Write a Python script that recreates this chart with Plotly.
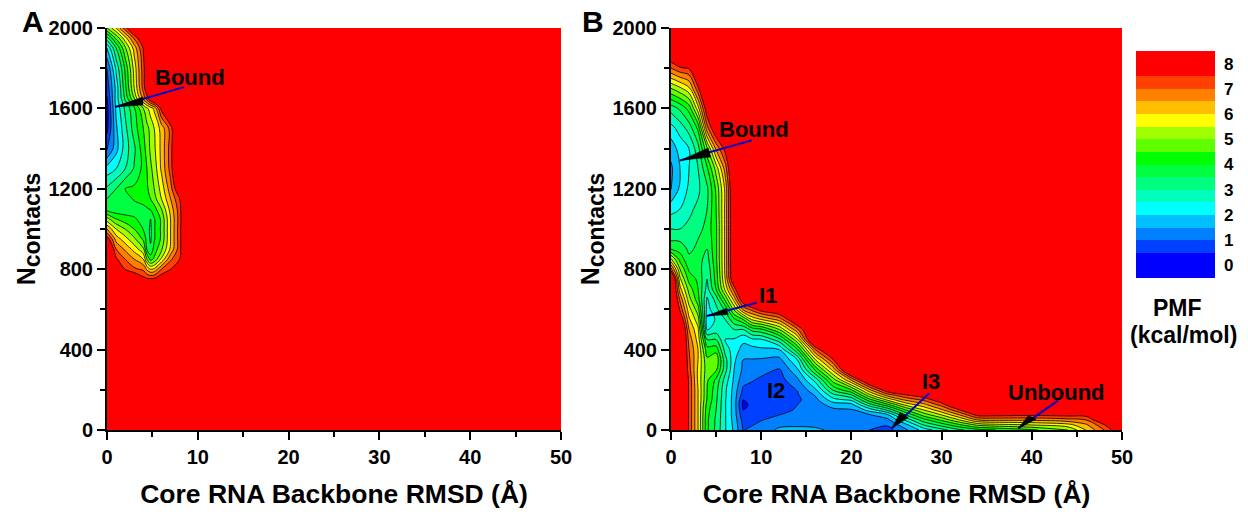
import plotly.graph_objects as go

W, H = 1248, 517
FONT = "Liberation Sans"
FILL = 9.0

band_colors = ["#0000ff", "#0040ff", "#0080ff", "#00bfff", "#00ffff", "#00ffbf", "#00ff80", "#00ff40",
               "#00ff00", "#60ff00", "#a0ff00", "#ffff00", "#ffbf00", "#ff8000", "#ff4000", "#ff0000"]
band_edges = [-0.5, 0.5, 1, 1.5, 2, 2.5, 3, 3.5, 4, 4.5, 5, 5.5, 6, 6.5, 7, 7.5, 8.5]
colorbar_ticks = [0, 1, 2, 3, 4, 5, 6, 7, 8]

# Panel A
rmsd_a = [0, 1, 2, 3, 4, 4.4, 4.8, 5.2, 6, 7, 8, 9, 10, 50]
ncontacts_a = [0, 700, 750, 800, 850, 900, 950, 1000, 1050, 1100, 1150, 1200, 1300, 1400, 1500, 1600, 1650,
               1700, 1800, 1900, 1950, 2000]
pmf_a = [
    [],
    [],
    [9, 9, 9, 8.3, 7.7, 7.6, 7.6, 7.65, 8],
    [9, 9, 7.45, 7.1, 6.9, 6.4, 6, 6.1, 7, 7.5, 8.8],
    [9, 7.6, 7, 6.5, 6, 5, 4.3, 4.6, 5.6, 6.9, 7.5],
    [9, 7, 6.4, 5.8, 5.1, 3.95, 3.6, 4.2, 4.9, 6.1, 7.3],
    [7.9, 6.3, 5.7, 5.1, 4.4, 3.8, 3.42, 3.95, 4.6, 6, 7.3],
    [6.5, 5.5, 5, 4.5, 3.97, 3.7, 3.4, 3.95, 4.6, 6, 7.3],
    [5.2, 4.5, 4.2, 4.05, 3.85, 3.7, 3.48, 3.95, 4.6, 6, 7.25],
    [3.7, 3.6, 3.7, 3.8, 3.9, 3.95, 4.05, 4.3, 5, 6.2, 7.3],
    [3.5, 3.6, 3.8, 4.05, 4.15, 4.3, 4.5, 4.8, 5.5, 6.5, 7.5],
    [3.1, 3.5, 4, 4.1, 4.2, 4.4, 4.75, 5, 5.7, 6.8, 8.2],
    [2.2, 2.5, 3, 3.55, 4.15, 4.5, 4.9, 5.2, 6.1, 7.2],
    [0.9, 1.8, 2.75, 3.4, 4.3, 4.7, 5.1, 5.4, 6.15, 7.25],
    [0.35, 1.9, 2.85, 3.75, 4.5, 4.85, 5.15, 5.5, 6.2, 7.2],
    [0.3, 2.1, 3.1, 3.9, 5, 5.4, 5.75, 6.1, 7.7],
    [0.45, 2.2, 3.6, 5, 6.7, 7.3, 8.1, 8.6],
    [0.7, 2.15, 3.85, 5.5, 7.2, 8, 8.6],
    [1, 2.6, 4.1, 5.7, 7.3, 8.1, 8.6],
    [2, 3.5, 4.9, 6.2, 7.55, 8.1, 8.6],
    [3.3, 4.6, 5.8, 7.1, 8.2],
    [5, 6, 7.3, 8.6],
]

# Panel B
rmsd_b = [0, 1, 2, 3, 4, 5, 6, 7, 8, 9, 10, 12, 14, 16, 18, 20, 22, 24, 26, 28, 30, 32, 34, 36, 40, 44, 46, 48, 49, 50]
ncontacts_b = [0, 25, 50, 75, 100, 125, 150, 175, 200, 250, 300, 350, 400, 450, 500, 550, 600, 650, 700, 750,
               800, 850, 900, 950, 1000, 1100, 1200, 1300, 1400, 1500, 1600, 1700, 1800, 1850, 2000]
pmf_b = [
    [9, 9, 7.4, 6, 4.1, 3.35, 2.55, 1.9, .98, 1.1, 1.2, 1.6, 1.6, 1.6, 1.4, 1.4, 1, .8, 1.4, 2.2, 2.8, 3.4, 3.8, 4, 4.4, 5, 6, 7, 7.6, 8.5],
    [9, 9, 7.4, 6, 4.1, 3.4, 2.55, 1.85, .9, .98, 1.1, 1.4, 1.45, 1.4, 1.35, 1.35, 1.3, 1.05, 1.8, 3, 3.7, 4.4, 5.1, 5.3, 5.5, 5.8, 6.4, 7.4, 8.5],
    [9, 9, 7.4, 6, 4.1, 3.4, 2.55, 1.8, .8, .85, .98, 1.15, 1.25, 1.2, 1.3, 1.3, 1.35, 1.35, 2.6, 3.8, 4.6, 5.5, 6.5, 6.6, 6.6, 6.8, 7, 8.2],
    [9, 9, 7.4, 6, 4.15, 3.45, 2.55, 1.75, .65, .78, .9, 1, 1.15, 1.15, 1.3, 1.35, 1.45, 1.9, 3.5, 4.7, 5.5, 6.5, 7.7, 7.7, 7.6, 7.7, 7.7],
    [9, 9, 7.4, 6, 4.2, 3.5, 2.55, 1.75, .49, .7, .8, .85, 1.05, 1.15, 1.4, 1.45, 2.2, 3.1, 4.5, 5.5, 6.4, 7.5],
    [9, 9, 7.4, 6, 4.3, 3.55, 2.55, 1.75, .38, .6, .75, .78, 1, 1.25, 1.7, 1.8, 3.25, 4.3, 5.6, 6.3, 7.2, 8.6],
    [9, 9, 7.4, 6, 4.45, 3.6, 2.55, 1.75, .49, .7, .7, .7, .9, 1.35, 2.3, 2.6, 4.3, 5.6, 6.6, 7.1, 8],
    [9, 9, 7.4, 6, 4.5, 3.65, 2.6, 1.75, .78, .72, .72, .7, .95, 1.55, 2.9, 3.5, 5.4, 6.8, 7.5, 7.9],
    [9, 9, 7.4, 6, 4.5, 3.7, 2.6, 1.8, .9, .8, .75, .7, 1.02, 1.9, 3.6, 4.5, 6.4, 8, 8.5],
    [9, 9, 7.4, 5.9, 4.6, 3.9, 2.8, 1.9, 1.2, 1.05, .9, .8, 1.4, 2.7, 4.8, 6.6, 8.6],
    [9, 9, 7.2, 5.9, 4.7, 4.6, 3.2, 2, 1.4, 1.25, 1.2, .95, 1.9, 4.1, 6.2],
    [9, 9, 7.1, 6, 4.6, 4.9, 3.2, 2.1, 1.5, 1.48, 1.45, 1.35, 2.5, 5.5, 7.5],
    [9, 9, 7, 6, 4.2, 4.3, 2.8, 2.2, 1.85, 1.8, 1.9, 2, 3.9, 7],
    [9, 9, 6.8, 5.8, 3.5, 3.5, 2.5, 2.45, 2.1, 2.4, 2.45, 3.3, 5.4],
    [9, 9, 6.5, 5.6, 2.45, 2.7, 2.7, 3, 3, 3.7, 3.9, 5, 6.9],
    [9, 8.2, 6.1, 5.2, 2.2, 2.55, 3, 3.9, 4.5, 5.6, 6, 6.7, 8.4],
    [9, 7.4, 5.7, 4.7, 2.3, 2.85, 3.6, 5.1, 6.6, 7.2, 7.8, 8.3],
    [9, 6.9, 5.2, 4.2, 2.42, 3.2, 4.6, 6.2, 8.1],
    [9, 6.2, 4.8, 4, 2.8, 4, 5.6, 7.2],
    [9, 5.6, 4.3, 3.9, 3, 4.2, 6, 8.3],
    [7.2, 5, 3.9, 3.75, 3.1, 4.3, 6.1, 8.4],
    [5.6, 4.3, 3.6, 3.7, 3.3, 4.4, 6.1, 8.5],
    [4, 3.8, 3.4, 3.6, 3.5, 4.4, 6.1, 8.5],
    [3.4, 3.4, 3.25, 3.5, 3.6, 4.4, 6.1, 8.5],
    [3, 3, 3.1, 3.3, 3.7, 4.4, 6.1, 8.5],
    [2.3, 2.5, 2.9, 3.1, 3.5, 4.5, 6.1, 8.5],
    [1.45, 2.1, 2.6, 2.9, 3.4, 4.6, 6.1, 8.6],
    [1.4, 2, 2.5, 3, 3.9, 5.2, 6.7, 8.8],
    [1.7, 2.2, 2.5, 3.3, 4.9, 6.6, 7.7],
    [2.3, 2.7, 3.2, 4.1, 6.8, 8.2],
    [3.2, 3.6, 4.2, 5.8, 8],
    [5, 5.4, 5.9, 7.4],
    [7, 7.4, 7.55],
    [7.8, 8.4],
    [],
]

x_ticks = [0, 10, 20, 30, 40, 50]
y_ticks = [0, 400, 800, 1200, 1600, 2000]

# label text and centre; arrow tail, tip and head base, all in data units
arrows_a = [("Bound", 9.14, 1756, (8.48, 1706), (0.88, 1607), (3.96, 1657), (3.96, 1617))]
arrows_b = [
    ("Bound", 9.2, 1497, (8.95, 1441), (1.0, 1341), (4.13, 1403), (4.4, 1358)),
    ("I1", 10.75, 667, (9.5, 633), (3.96, 567), (6.1, 605), (6.36, 575)),
    ("I3", 28.8, 242, (28.64, 183), (24.47, 8), (25.4, 87), (26.3, 62)),
    ("Unbound", 42.7, 187, (42.9, 146), (38.5, 8), (39.6, 71.5), (40.5, 55)),
]
plain_labels_b = [("I2", 11.6, 197)]


def full(rows, n):
    return [list(r) + [FILL] * (n - len(r)) for r in rows]


def fx(px):
    return px / W


def fy(py):
    return 1 - py / H


scale = [[i / (len(band_colors) - 1), c] for i, c in enumerate(band_colors)]


def contour(x, y, z, xa, ya):
    return go.Contour(
        x=x, y=y, z=full(z, len(x)), xaxis=xa, yaxis=ya, colorscale=scale, showscale=False,
        contours=dict(start=0.5, end=7.5, size=0.5, coloring="fill"),
        line=dict(color="black", width=0.8, smoothing=1),
    )


fig = go.Figure()
fig.add_trace(contour(rmsd_a, ncontacts_a, pmf_a, "x", "y"))
fig.add_trace(contour(rmsd_b, ncontacts_b, pmf_b, "x2", "y2"))
fig.add_trace(go.Heatmap(
    x=[0, 1], y=band_edges, z=[[i] for i in range(len(band_colors))], xaxis="x3", yaxis="y3",
    colorscale=scale, zmin=0, zmax=len(band_colors) - 1, showscale=False, hoverinfo="skip",
))


def xaxis(x0, x1):
    return dict(
        domain=[fx(x0), fx(x1)], range=[0, 50], tickmode="array", tickvals=x_ticks, showgrid=False, zeroline=False,
        automargin=False, ticks="outside", ticklen=8, tickwidth=2, tickcolor="black", showline=True, linecolor="black",
        linewidth=2, ticktext=[f"<b>{t}</b>" for t in x_ticks], tickfont=dict(family=FONT, size=20, color="black"),
        minor=dict(dtick=5, tick0=0, ticks="outside", ticklen=5, tickwidth=2, tickcolor="black", showgrid=False),
        title=dict(text="<b>Core RNA Backbone RMSD (Å)</b>", font=dict(family=FONT, size=26.5, color="black"), standoff=17),
    )


def yaxis():
    return dict(
        domain=[fy(430), fy(28)], range=[0, 2000], tickmode="array", tickvals=y_ticks, showgrid=False,
        automargin=False, zeroline=False, ticks="outside", ticklen=8, tickwidth=2, tickcolor="black", showline=True,
        linecolor="black", linewidth=2, ticktext=[f"<b>{t}</b>" for t in y_ticks],
        tickfont=dict(family=FONT, size=20, color="black"),
        minor=dict(dtick=200, tick0=0, ticks="outside", ticklen=5, tickwidth=2, tickcolor="black", showgrid=False),
        title=dict(text="<b><span style=\"font-size:25px\">N</span><sub><span style=\"font-size:23px\">contacts</span></sub></b>",
                   font=dict(family=FONT, size=25, color="black"), standoff=6),
    )


annotations = []
shapes = []
for ax, ay, arrows in (("x", "y", arrows_a), ("x2", "y2", arrows_b)):
    for label, lx, ly, tail, tip, b1, b2 in arrows:
        annotations.append(dict(x=lx, y=ly, xref=ax, yref=ay, text=f"<b>{label}</b>", showarrow=False,
                                xanchor="center", yanchor="middle", font=dict(family=FONT, size=22, color="black")))
        shapes.append(dict(type="line", xref=ax, yref=ay, x0=tail[0], y0=tail[1], x1=tip[0], y1=tip[1],
                           line=dict(color="#0000cc", width=2)))
        shapes.append(dict(type="path", xref=ax, yref=ay, fillcolor="black", line=dict(color="black", width=0.5),
                           path=f"M {tip[0]} {tip[1]} L {b1[0]} {b1[1]} L {b2[0]} {b2[1]} Z"))
for label, lx, ly in plain_labels_b:
    annotations.append(dict(x=lx, y=ly, xref="x2", yref="y2", text=f"<b>{label}</b>", showarrow=False,
                            xanchor="center", yanchor="middle", font=dict(family=FONT, size=22, color="black")))

for text, px, py, size in (("A", 33, 21, 30), ("B", 593, 21, 30), ("PMF", 1177, 308, 23), ("(kcal/mol)", 1183, 335, 23)):
    annotations.append(dict(x=fx(px), y=fy(py), xref="paper", yref="paper", text=f"<b>{text}</b>", showarrow=False,
                            xanchor="center", yanchor="middle", font=dict(family=FONT, size=size, color="black")))

fig.update_layout(
    width=W, height=H, margin=dict(l=0, r=0, t=0, b=0, autoexpand=False), paper_bgcolor="white", plot_bgcolor="white",
    showlegend=False, annotations=annotations, shapes=shapes,
    xaxis=xaxis(107, 561), yaxis=yaxis(),
    xaxis2=dict(xaxis(671, 1122), anchor="y2"), yaxis2=dict(yaxis(), anchor="x2"),
    xaxis3=dict(domain=[fx(1136), fx(1215)], range=[0, 1], visible=False, anchor="y3", automargin=False),
    yaxis3=dict(domain=[fy(278), fy(51)], range=[-0.5, 8.5], anchor="x3", side="right", tickmode="array",
                tickvals=colorbar_ticks, ticktext=[f"<b>{t}</b>" for t in colorbar_ticks], ticks="", showgrid=False,
                zeroline=False, showline=False, automargin=False, ticklabelstandoff=8,
                tickfont=dict(family=FONT, size=17, color="black")),
)

fig.write_html("out.html", config=dict(displayModeBar=False),
               post_script="document.body.style.margin='0';document.body.style.overflow='hidden';")
